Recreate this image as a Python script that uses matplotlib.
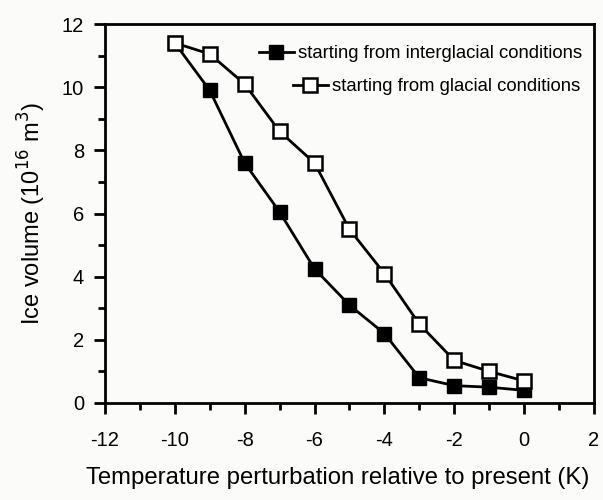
import matplotlib.pyplot as plt
from matplotlib.ticker import MultipleLocator

plt.rcParams['font.family'] = ['Liberation Sans', 'DejaVu Sans']
plt.rcParams['axes.unicode_minus'] = False

temp = [-10, -9, -8, -7, -6, -5, -4, -3, -2, -1, 0]
ice_interglacial = [11.4, 9.9, 7.6, 6.05, 4.25, 3.1, 2.2, 0.8, 0.55, 0.5, 0.4]
ice_glacial = [11.4, 11.05, 10.1, 8.6, 7.6, 5.5, 4.1, 2.5, 1.35, 1.0, 0.7]

label_inter = "starting from interglacial conditions"
label_glac = "starting from glacial conditions"

fig = plt.figure(figsize=(6.03, 5.0), dpi=100)
fig.patch.set_facecolor('#fbfbfa')
ax = fig.add_axes([0.174, 0.194, 0.811, 0.758])
ax.set_facecolor('#fbfbfa')

l1, = ax.plot(temp, ice_interglacial, color='black', lw=2.0, marker='s',
              ms=10, mfc='black', mec='black', label=label_inter)
l2, = ax.plot(temp, ice_glacial, color='black', lw=2.0, marker='s',
              ms=10, mfc='white', mec='black', mew=1.8, label=label_glac)

ax.set_xlim(-12, 2)
ax.set_ylim(0, 12)
ax.xaxis.set_major_locator(MultipleLocator(2))
ax.xaxis.set_minor_locator(MultipleLocator(1))
ax.yaxis.set_major_locator(MultipleLocator(2))
ax.yaxis.set_minor_locator(MultipleLocator(1))
ax.tick_params(which='major', direction='out', length=8, width=2, labelsize=14.5)
ax.tick_params(which='minor', direction='out', length=5, width=2)
ax.tick_params(axis='x', which='major', pad=12)
ax.tick_params(axis='y', which='major', pad=7)
for s in ax.spines.values():
    s.set_linewidth(2)

ax.set_xlabel("Temperature perturbation relative to present (K)", fontsize=17.2)
ax.xaxis.set_label_coords(0.475, -0.168)
ax.set_ylabel("Ice volume (10$^{16}$ m$^{3}$)", fontsize=17, labelpad=10)

leg_kw = dict(frameon=False, fontsize=13.3, handlelength=1.9, handletextpad=0.2,
              borderaxespad=0, borderpad=0)
leg1 = ax.legend(handles=[l1], loc='center right', bbox_to_anchor=(0.975, 0.921), **leg_kw)
ax.add_artist(leg1)
ax.legend(handles=[l2], loc='center right', bbox_to_anchor=(0.971, 0.834), **leg_kw)

fig.savefig("out.png", dpi=100, facecolor=fig.get_facecolor())
